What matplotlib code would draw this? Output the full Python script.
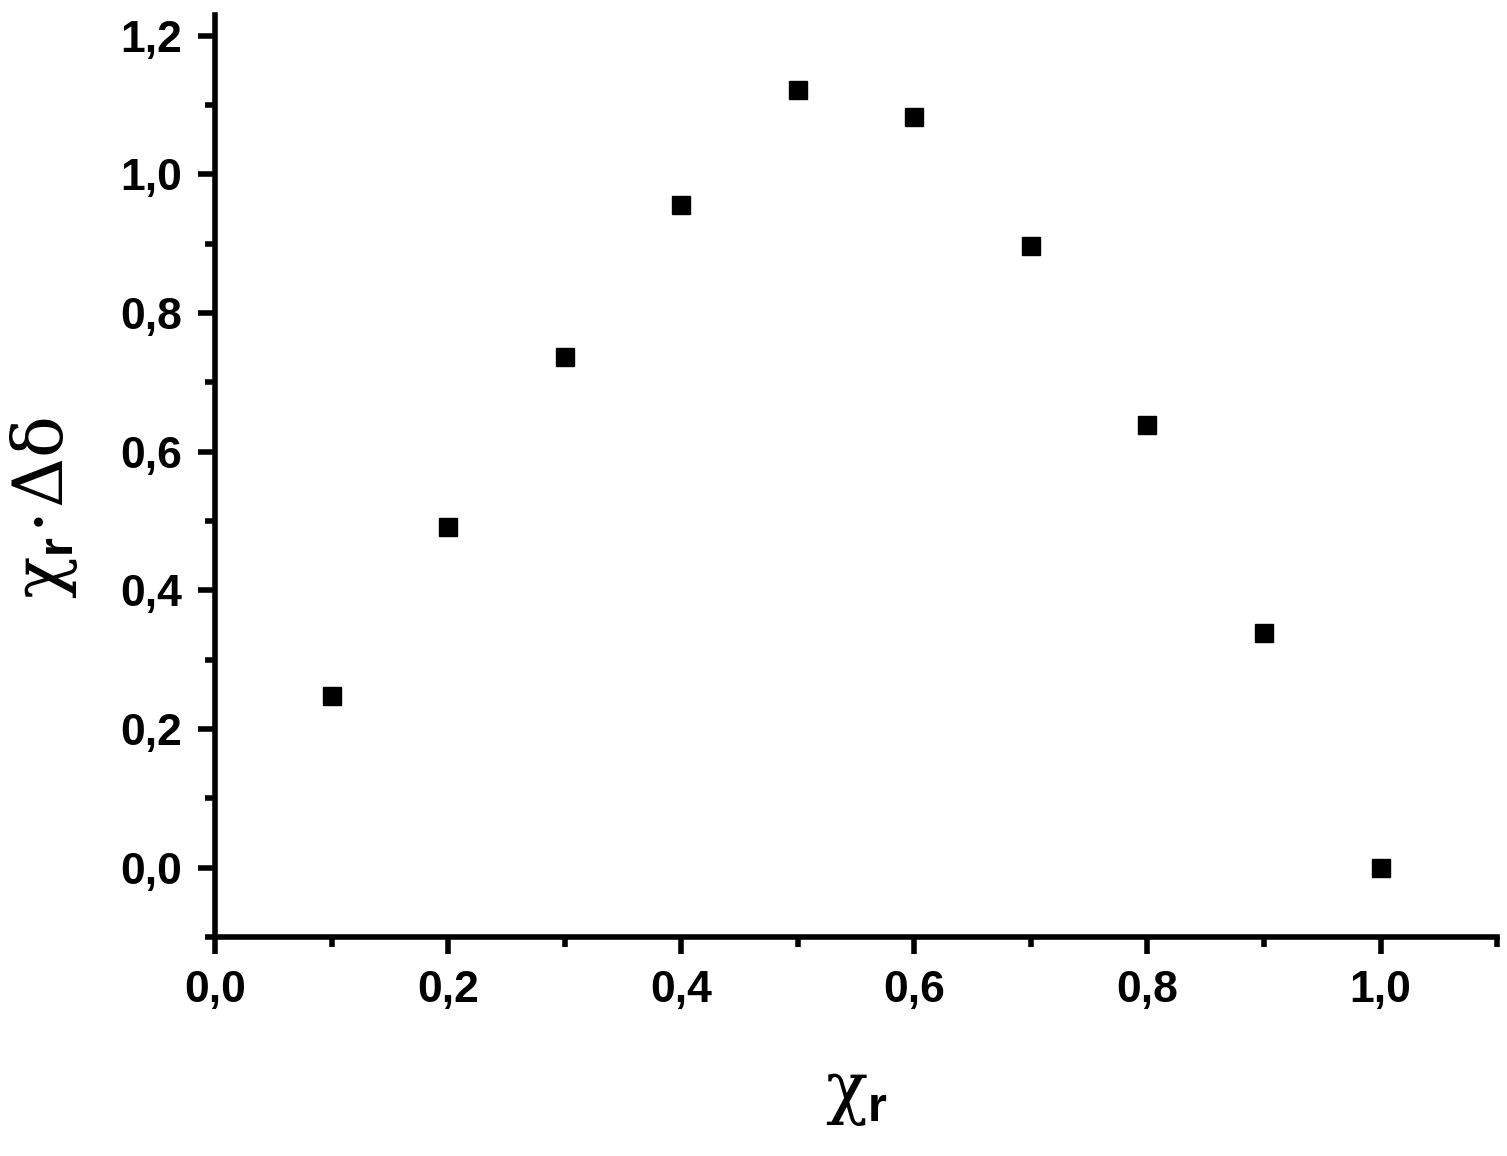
import numpy as np
import matplotlib.pyplot as plt
from matplotlib.ticker import MultipleLocator, FuncFormatter

# data
x_r = [0.1, 0.2, 0.3, 0.4, 0.5, 0.6, 0.7, 0.8, 0.9, 1.0]
x_r_dd = [0.248, 0.492, 0.736, 0.956, 1.122, 1.083, 0.897, 0.638, 0.338, 0.0]

plt.rcParams['font.family'] = ['Liberation Sans', 'DejaVu Sans']
plt.rcParams['mathtext.fontset'] = 'custom'
plt.rcParams['mathtext.rm'] = 'DejaVu Serif'
plt.rcParams['mathtext.it'] = 'DejaVu Serif:italic'
plt.rcParams['mathtext.bf'] = 'Liberation Sans:bold'

fig = plt.figure(figsize=(15.07, 11.56), dpi=100)
ax = fig.add_axes([0.1427, 0.1894, 0.8507, 0.7976])

ax.plot(x_r, x_r_dd, 's', color='black', markersize=12.5, clip_on=False)

ax.set_xlim(0.0, 1.1)
ax.set_ylim(-0.1, 1.23)

ax.spines['top'].set_visible(False)
ax.spines['right'].set_visible(False)
ax.spines['left'].set_linewidth(4)
ax.spines['bottom'].set_linewidth(4)

ax.xaxis.set_major_locator(MultipleLocator(0.2))
ax.xaxis.set_minor_locator(MultipleLocator(0.1))
ax.yaxis.set_major_locator(MultipleLocator(0.2))
ax.yaxis.set_minor_locator(MultipleLocator(0.1))

fmt = FuncFormatter(lambda v, p: f"{v:.1f}".replace('.', ',').replace('-0,0', '0,0'))
ax.xaxis.set_major_formatter(fmt)
ax.yaxis.set_major_formatter(fmt)

ax.tick_params(which='major', direction='out', length=12, width=4, labelsize=32, pad=12)
ax.tick_params(which='minor', direction='out', length=7, width=4)
for lab in ax.get_xticklabels() + ax.get_yticklabels():
    lab.set_fontweight('bold')

ax.set_xlabel(r'$\mathrm{\chi}_\mathbf{r}$', fontsize=50, labelpad=38)
ax.set_ylabel(r'$\mathrm{\chi}_\mathbf{r}\!\cdot\!\mathrm{\Delta\delta}$', fontsize=50)
ax.yaxis.set_label_coords(-0.105, 0.465)

plt.savefig("out.png", dpi=100)
